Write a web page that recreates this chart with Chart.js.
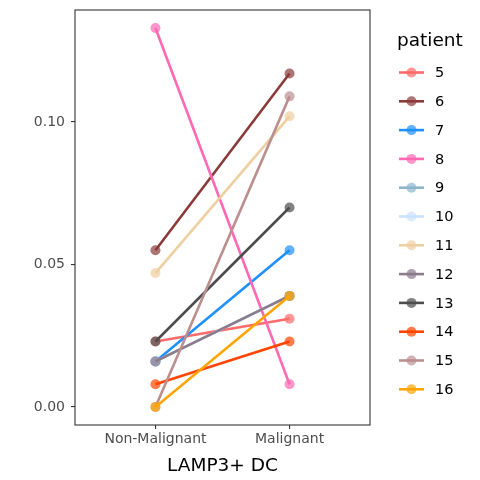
<!DOCTYPE html>
<html>
<head>
<meta charset="utf-8">
<script src="https://cdn.jsdelivr.net/npm/chart.js@4"></script>
<style>
  html, body { margin: 0; padding: 0; background: #fff; }
  #wrap { width: 480px; height: 480px; }
</style>
</head>
<body>
<div id="wrap"><canvas id="chart" width="480" height="480"></canvas></div>
<script>
const categories = ['Non-Malignant', 'Malignant']
const patients = ['5', '6', '7', '8', '9', '10', '11', '12', '13', '14', '15', '16']
const nonMalignant = [0.023, 0.055, 0.016, 0.133, 0.016, 0.016, 0.047, 0.016, 0.023, 0.008, 0.000, 0.000]
const malignant = [0.031, 0.117, 0.055, 0.008, 0.039, 0.039, 0.102, 0.039, 0.070, 0.023, 0.109, 0.039]
const colors = ['#FF6A6A', '#8B3A3A', '#1E90FF', '#FF69B4', '#8DB6CD', '#CAE1FF',
                '#EECFA1', '#8B7B8B', '#4D4D4D', '#FF4500', '#BC8F8F', '#FFA500']
const yTicks = [0, 0.05, 0.10]

const FONT = "'DejaVu Sans', sans-serif"

function alpha(hex, a) {
    let r = parseInt(hex.slice(1, 3), 16)
    let g = parseInt(hex.slice(3, 5), 16)
    let b = parseInt(hex.slice(5, 7), 16)
    return `rgba(${r},${g},${b},${a})`
}

// later patients are drawn on top, like ggplot
let datasets = patients.map((p, i) => ({
    label: p,
    order: patients.length - i,
    data: [{x: 0, y: nonMalignant[i]}, {x: 1, y: malignant[i]}],
    borderColor: colors[i],
    borderWidth: 2.6,
    pointRadius: 5,
    pointBorderWidth: 0,
    pointBackgroundColor: alpha(colors[i], 0.7),
    showLine: true,
    fill: false,
    tension: 0
}))

// panel border + legend
const extras = {
    id: 'extras',
    afterDraw(chart) {
        let ctx = chart.ctx
        let a = chart.chartArea
        ctx.save()
        ctx.strokeStyle = '#333333'
        ctx.lineWidth = 1.1
        ctx.strokeRect(a.left, a.top, a.right - a.left, a.bottom - a.top)

        ctx.fillStyle = '#000'
        ctx.font = `18.5px ${FONT}`
        ctx.textBaseline = 'middle'
        ctx.textAlign = 'left'
        ctx.fillText('patient', 397, 41)

        ctx.font = `14.5px ${FONT}`
        patients.forEach((p, i) => {
            let y = 72.5 + i * 28.8
            ctx.strokeStyle = colors[i]
            ctx.lineWidth = 2.6
            ctx.beginPath()
            ctx.moveTo(399, y)
            ctx.lineTo(424, y)
            ctx.stroke()
            ctx.fillStyle = alpha(colors[i], 0.7)
            ctx.beginPath()
            ctx.arc(411.5, y, 5, 0, Math.PI * 2)
            ctx.fill()
            ctx.fillStyle = '#000'
            ctx.fillText(p, 435, y + 1)
        })
        ctx.restore()
    }
}

new Chart(document.getElementById('chart'), {
    type: 'line',
    data: { datasets: datasets },
    plugins: [extras],
    options: {
        responsive: false,
        animation: false,
        layout: { autoPadding: false, padding: { left: 0, top: 10, right: 110, bottom: 0 } },
        plugins: {
            legend: { display: false },
            tooltip: { enabled: false }
        },
        scales: {
            x: {
                type: 'linear',
                min: -0.6,
                max: 1.6,
                afterBuildTicks: (scale) => { scale.ticks = [{value: 0}, {value: 1}] },
                afterFit: (scale) => {
                    scale.height = 55
                    scale.paddingLeft = 0
                    scale.paddingRight = 0
                },
                ticks: {
                    callback: (v) => categories[v],
                    color: '#4D4D4D',
                    font: { family: FONT, size: 14 },
                    padding: 2,
                    maxRotation: 0
                },
                grid: { drawOnChartArea: false, tickLength: 4, color: '#333333', lineWidth: 1.1 },
                border: { display: false },
                title: {
                    display: true,
                    text: 'LAMP3+ DC',
                    color: '#000',
                    font: { family: FONT, size: 18.5 },
                    padding: { top: 4, bottom: 3 }
                }
            },
            y: {
                type: 'linear',
                min: -0.0063,
                max: 0.1393,
                afterBuildTicks: (scale) => { scale.ticks = yTicks.map(v => ({value: v})) },
                afterFit: (scale) => {
                    scale.width = 75
                    scale.paddingTop = 0
                    scale.paddingBottom = 0
                },
                ticks: {
                    callback: (v) => v.toFixed(2),
                    color: '#4D4D4D',
                    font: { family: FONT, size: 14 },
                    padding: 6
                },
                grid: { drawOnChartArea: false, tickLength: 4, color: '#333333', lineWidth: 1.1 },
                border: { display: false }
            }
        }
    }
})
</script>
</body>
</html>
